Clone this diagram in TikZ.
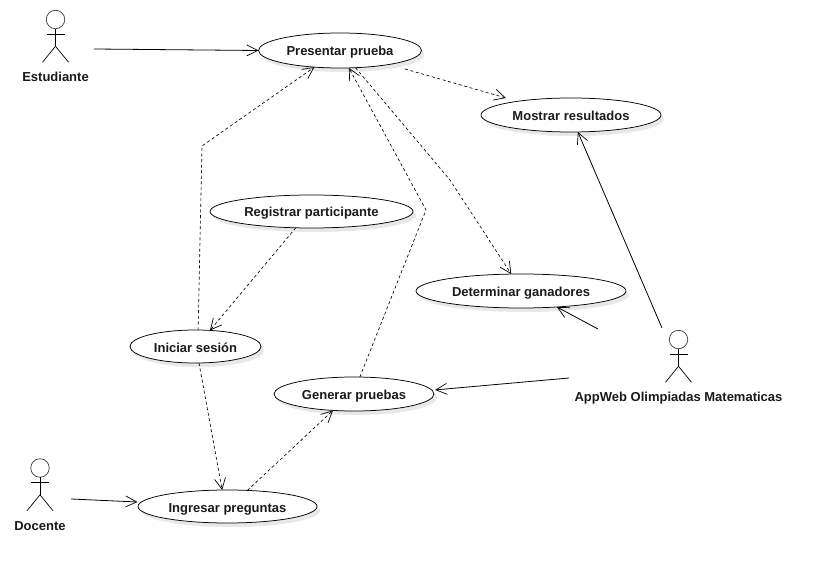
\documentclass[tikz,border=0pt]{standalone}
\usepackage{fontspec}
\setmainfont{Liberation Sans}
\usetikzlibrary{shapes.geometric,arrows.meta,shadows}
\definecolor{inktext}{HTML}{1A1A1A}
\definecolor{shade}{HTML}{E8E8E8}
\tikzset{
  usecase/.style={ellipse,draw=black,line width=0.75pt,fill=white,inner sep=0pt,outer sep=0pt,
    font=\fontsize{13}{15}\selectfont\bfseries,text=inktext,text height=11pt,text depth=0pt,
    drop shadow={shadow xshift=3pt,shadow yshift=-4pt,fill=shade,opacity=1}},
  actorhead/.style={circle,draw=black!75,line width=0.7pt,minimum size=18.5pt,inner sep=0pt,outer sep=0pt},
  actorlimb/.style={draw=black,line width=0.7pt},
  actorname/.style={font=\fontsize{13}{15}\selectfont\bfseries,text=inktext,inner sep=0pt,text height=11pt,text depth=0pt},
  assoc/.style={draw=black,line width=0.8pt,-{Straight Barb[length=11pt,width=11pt,line width=0.7pt]}},
  depend/.style={draw=black,line width=0.65pt,dash pattern=on 3pt off 2.6pt,
    -{Straight Barb[length=11pt,width=11pt,line width=0.7pt]}}
}
\newcommand{\stickman}[5]{% name, x, head y, label, label y
  \node[actorhead] (#1) at (#2,#3) {};
  \draw[actorlimb] (#1.south) -- ++(0,17.5) coordinate (#1hip);
  \draw[actorlimb] ([shift={(-9,14.5)}]#1.center) -- ([shift={(9,14.5)}]#1.center);
  \draw[actorlimb] (#1hip) -- ++(-13,16);
  \draw[actorlimb] (#1hip) -- ++(13,16);
  \node[actorname] (#1name) at (#2,#5) {#4};
}
\begin{document}
\begin{tikzpicture}[x=1pt,y=-1pt]
\useasboundingbox (0,0) rectangle (827,577);
\fill[white] (0,0) rectangle (827,577);
% use cases
\node[usecase,minimum width=163pt,minimum height=35pt] (pp) at (340,50.5) {Presentar prueba};
\node[usecase,minimum width=180pt,minimum height=34pt] (mr) at (571,115) {Mostrar resultados};
\node[usecase,minimum width=203pt,minimum height=33pt] (rp) at (311.5,211.5) {Registrar participante};
\node[usecase,minimum width=210pt,minimum height=34pt] (dg) at (521,291) {Determinar ganadores};
\node[usecase,minimum width=131pt,minimum height=33pt] (is) at (195.5,346.5) {Iniciar sesión};
\node[usecase,minimum width=160pt,minimum height=34pt] (gp) at (354,394) {Generar pruebas};
\node[usecase,minimum width=179pt,minimum height=33pt] (ip) at (227.5,506.5) {Ingresar preguntas};
% actors
\stickman{est}{55.5}{19.5}{Estudiante}{76.5}
\stickman{doc}{40}{468}{Docente}{524.5}
\stickman{app}{678.5}{339.5}{AppWeb Olimpiadas Matematicas}{396}
% free ends
\coordinate (estout) at (94,49);
\coordinate (docout) at (71,499);
\coordinate (appgen) at (569,378);
\coordinate (appdet) at (598,329);
\coordinate (appmos) at (662,328);
\coordinate (ppout) at (405,69);
\coordinate (mrin) at (506,98);
\coordinate (bendA) at (202,146);
\coordinate (bendB) at (426,210);
\coordinate (bendC) at (450,180);
% associations
\draw[assoc] (estout) -- (pp.180);
\draw[assoc] (docout) -- ([xshift=-4pt]ip.177);
\draw[assoc] (appgen) -- ([xshift=3.5pt]gp.3);
\draw[assoc] (appdet) -- (dg.-24);
\draw[assoc] (appmos) -- (mr.-68);
% dependencies
\draw[depend] (ppout) -- (mrin);
\draw[depend] (pp.-48) -- (bendC) -- (dg.120);
\draw[depend] (gp.71) -- (bendB) -- (pp.-63);
\draw[depend] (is.81) -- (bendA) -- (pp.-147);
\draw[depend] (rp.-134) -- (is.48);
\draw[depend] (is.-78) -- (ip.108);
\draw[depend] (ip.39) -- (gp.-142);
\end{tikzpicture}
\end{document}
